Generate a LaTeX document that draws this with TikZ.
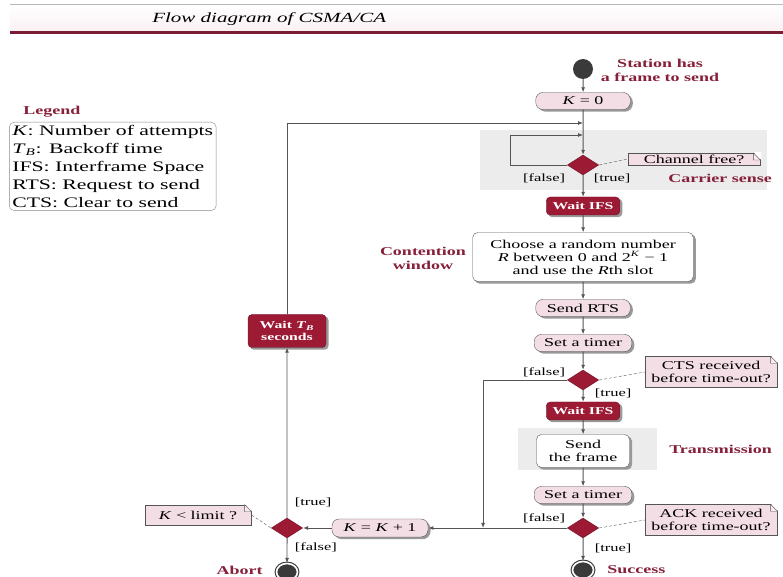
\documentclass[tikz,border=0pt]{standalone}
\usepackage{fontspec}
\setmainfont{Liberation Serif}
\usepackage{tikz}
\usetikzlibrary{arrows.meta,positioning,shapes.geometric,calc,backgrounds}
\definecolor{csred}{HTML}{9C1A34}
\definecolor{cslabel}{HTML}{86203A}
\definecolor{cspink}{HTML}{F4DEE5}
\definecolor{csline}{HTML}{555555}
\definecolor{cspanel}{HTML}{ECECEC}
\definecolor{csdark}{HTML}{3A3A3A}

\begin{document}
\begin{tikzpicture}[x=0.666667pt,y=-1pt,xscale=1.5,
  every node/.style={transform shape,font=\fontsize{12}{13}\selectfont},
  pill/.style={draw=csline,fill=cspink,rounded corners=7pt,
               minimum width=63,minimum height=17,inner sep=1pt},
  card/.style={draw=csline,fill=white,rounded corners=5pt,
               align=center,inner sep=2pt},
  waitbox/.style={draw=csred!70!black,fill=csred,text=white,rounded corners=4pt,
               font=\bfseries\fontsize{10.5}{12}\selectfont,align=center,
               minimum width=49,minimum height=18,inner sep=1pt},
  decision/.style={diamond,draw=csred!70!black,fill=csred,
               minimum width=21,minimum height=20,inner sep=0pt},
  note/.style={draw=csline,fill=cspink,align=center,minimum width=88,inner sep=1.5pt},
  lbl/.style={text=cslabel,font=\bfseries\fontsize{12}{14}\selectfont,align=center},
  guard/.style={font=\fontsize{11}{12}\selectfont,inner sep=1pt},
  flow/.style={draw=csline,line width=0.9pt,-{Latex[length=5pt,width=4pt]}},
  link/.style={draw=csline,densely dashed,thin},
  final/.style={ellipse,fill=csdark,draw=csdark,line width=1.1pt,double=white,
               double distance=1.6pt,minimum width=14,minimum height=17,inner sep=0pt}
]
\useasboundingbox (0,0) rectangle (783,577);

% header
\shade[top color=white,bottom color=cspink!45] (10,6) rectangle (783,31);
\draw[gray!55,line width=1pt] (10,5) -- (783,5);
\draw[cslabel!90!black,line width=3pt] (10,32.5) -- (783,32.5);
\node[anchor=west,font=\itshape\fontsize{14}{16}\selectfont] (title) at (147,19)
     {Flow diagram of CSMA/CA};

% legend
\node[lbl,anchor=west] (leg) at (18,112) {Legend};
\node[draw=csline!70,rounded corners=5pt,align=left,inner xsep=2pt,inner ysep=3pt,
      anchor=north west,font=\fontsize{14.5}{18}\selectfont] (legbox) at (9,122)
     {\textit{K}: Number of attempts\\
      \textit{T}\textsubscript{\textit{B}}: Backoff time\\
      IFS: Interframe Space\\
      RTS: Request to send\\
      CTS: Clear to send};

% main column
\node[ellipse,fill=csdark,minimum width=13.3,minimum height=20,inner sep=0pt] (st) at (583,69) {};
\node[lbl] (has) at (660,70) {Station has\\a frame to send};
\node[pill] (k0) at (583,101) {\textit{K} = 0};
\coordinate (j0) at (583,123);
\coordinate (j1) at (583,135);
\node[decision] (d1) at (583,165) {};
\node[note] (nfree) at (694,159) {Channel free?};
\node[guard,anchor=east] (f1) at (567,178) {[false]};
\node[guard,anchor=west] (t1g) at (592,178) {[true]};
\node[lbl,anchor=west] (cs) at (663,178) {Carrier sense};
\node[waitbox] (w1) at (583,206) {Wait IFS};
\node[card,minimum width=147,minimum height=49] (rnd) at (583,257)
     {Choose a random number\\
      \textit{R} between 0 and 2\textsuperscript{\textit{K}} − 1\\
      and use the \textit{R}th slot};
\node[lbl] (cw) at (423,258) {Contention\\window};
\node[pill] (rts) at (583,308) {Send RTS};
\node[pill,minimum width=65] (tm1) at (583,343) {Set a timer};
\node[decision] (d2) at (583,380) {};
\node[guard,anchor=east] (f2) at (567,372) {[false]};
\node[guard,anchor=west] (t2g) at (593,393) {[true]};
\node[note,minimum height=31] (ncts) at (711,372) {CTS received\\before time-out?};
\node[waitbox] (w2) at (583,411) {Wait IFS};
\node[card,minimum width=62,minimum height=33] (frm) at (583,451) {Send\\the frame};
\node[lbl,anchor=west] (tx) at (664,449) {Transmission};
\node[pill,minimum width=65] (tm2) at (583,495) {Set a timer};
\node[decision] (d3) at (583,528) {};
\node[guard,anchor=east] (f3) at (567,518) {[false]};
\node[guard,anchor=west] (t3g) at (593,548) {[true]};
\node[note,minimum height=31] (nack) at (711,520) {ACK received\\before time-out?};
\node[final] (ok) at (583,570) {};
\node[lbl,anchor=west] (succ) at (602,570) {Success};
\coordinate (j2) at (483,528);

% left column
\node[waitbox,minimum width=52,minimum height=33] (tb) at (287,331)
     {Wait \textit{T}\textsubscript{\textit{B}}\\seconds};
\node[pill,minimum width=64,minimum height=18] (kinc) at (380,528) {\textit{K} = \textit{K} + 1};
\node[decision] (d4) at (287,528) {};
\node[note,minimum width=71,minimum height=20] (nlim) at (198,515) {\textit{K} < limit ?};
\node[guard,anchor=west] (t4g) at (293,502) {[true]};
\node[guard,anchor=west] (f4) at (293,547) {[false]};
\node[final] (ab) at (287,572) {};
\node[lbl,anchor=east] (abt) at (268,570) {Abort};

% shaded regions and box shadows
\begin{scope}[on background layer]
  \fill[cspanel] (480,130) rectangle (767,190);
  \fill[cspanel] (518,428) rectangle (657,470);
  \foreach \n/\r in {k0/8,rts/8,tm1/8,tm2/8,kinc/8,w1/4,w2/4,tb/4,rnd/5,frm/5}
    \fill[gray!80,rounded corners=\r pt] ($(\n.south west)+(2.2,2)$)
         rectangle ($(\n.north east)+(2.2,2)$);
\end{scope}

% note corners
\foreach \n in {nfree,ncts,nack,nlim}{
  \fill[white] ($(\n.north east)+(-7,-1)$) -- ($(\n.north east)+(1,-1)$)
               -- ($(\n.north east)+(1,7)$) -- cycle;
  \draw[csline,fill=cspink!60] ($(\n.north east)+(-7,0)$) |- ($(\n.north east)+(0,7)$) -- cycle;
}

% flow
\draw[flow] (st) -- (k0);
\draw[flow] (k0) -- (d1);
\draw[flow] (d1.west) -- ++(-57,0) |- (j1);
\draw[flow] (d1) -- (w1);
\draw[flow] (w1) -- (rnd);
\draw[flow] (rnd) -- (rts);
\draw[flow] (rts) -- (tm1);
\draw[flow] (tm1) -- (d2);
\draw[flow] (d2) -- (w2);
\draw[flow] (d2.west) -| (j2);
\draw[flow] (w2) -- (frm);
\draw[flow] (frm) -- (tm2);
\draw[flow] (tm2) -- (d3);
\draw[flow] (d3) -- (ok);
\draw[flow] (d3.west) -- (kinc);
\draw[flow] (kinc) -- (d4);
\draw[flow] (d4) -- (tb);
\draw[flow] (tb.north) |- (j0);
\draw[flow] (d4) -- (ab);

% notes
\draw[link] (d1.east) -- (nfree.west);
\draw[link] (d2.east) -- (ncts.west);
\draw[link] (d3.east) -- (nack.west);
\draw[link] (nlim.east) -- (d4.west);
\end{tikzpicture}
\end{document}
